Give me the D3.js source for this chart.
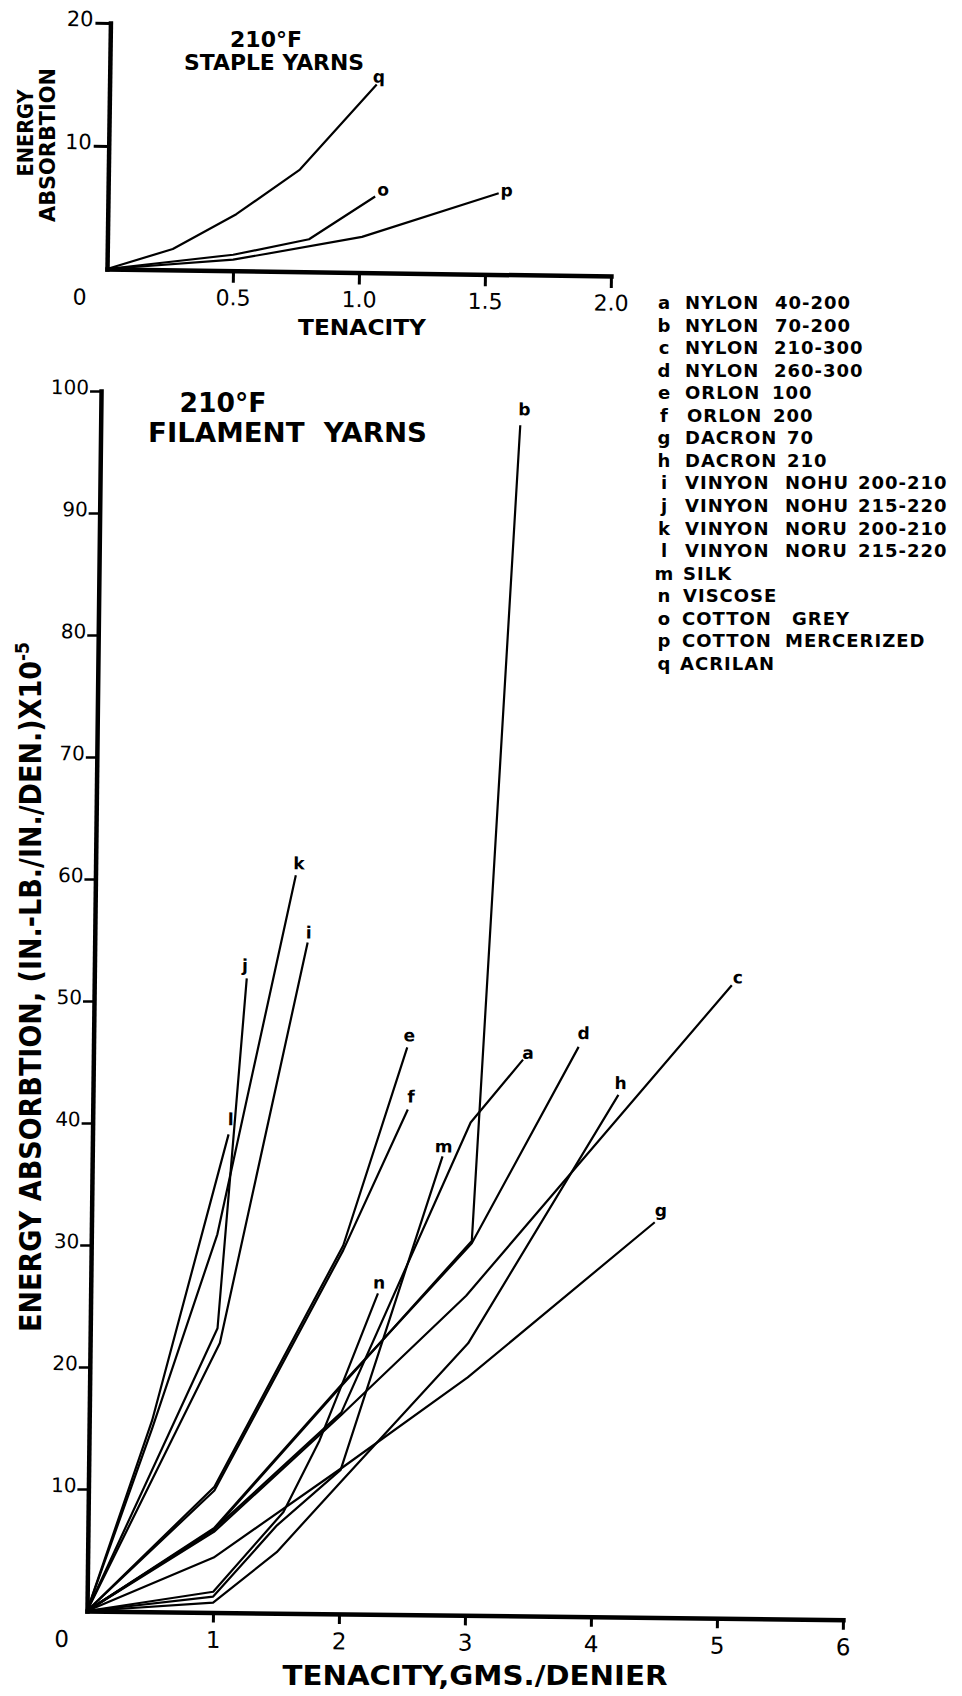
<!DOCTYPE html>
<html><head><meta charset="utf-8">
<script src="https://cdn.jsdelivr.net/npm/d3@7"></script>
<style>
html,body{margin:0;padding:0;background:#fff;}
svg{display:block;}
text{font-family:"DejaVu Sans",sans-serif;fill:#000;}
</style></head><body>
<svg id="chart" width="962" height="1696"></svg>
<script>
// ===== DATA =====
// Top panel: 210°F staple yarns  [tenacity, energy]
const stapleTicksX = [0.5, 1.0, 1.5, 2.0];
const stapleTickLabelsX = ["0.5", "1.0", "1.5", "2.0"];
const stapleTicksY = [10, 20];
const staple_o = [[0,0],[0.5,1.3],[0.8,2.65],[1.06,6.2]];
const staple_p = [[0,0],[0.5,0.9],[1.01,2.9],[1.55,6.6]];
const staple_q = [[0,0],[0.26,1.7],[0.51,4.6],[0.76,8.3],[1.06,15.3]];
const stapleKeys = ["o","p","q"];

// Main panel: 210°F filament yarns  [tenacity, energy x10^-5]
const filamentTicksX = [1, 2, 3, 4, 5, 6];
const filamentTicksY = [10, 20, 30, 40, 50, 60, 70, 80, 90, 100];
const fil_a = [[0,0],[1,6.8],[2,16.5],[3.0,40.4],[3.41,45.6]];
const fil_b = [[0,0],[1,6.8],[2,18.7],[3.02,30.7],[3.33,97.6]];
const fil_c = [[0,0],[1,6.6],[2,16.3],[2.98,26.2],[5.06,51.9]];
const fil_d = [[0,0],[1,6.9],[2,18.8],[3.02,30.5],[3.85,46.7]];
const fil_e = [[0,0],[1,10.3],[2,30.2],[2.49,46.5]];
const fil_f = [[0,0],[1,10.0],[2,29.8],[2.5,41.4]];
const fil_g = [[0,0],[1,4.5],[2,11.9],[3,19.5],[4.47,32.4]];
const fil_h = [[0,0],[1,0.8],[1.5,5.0],[2,10.8],[3,22.3],[4.17,42.8]];
const fil_i = [[0,0],[1.03,22.1],[1.69,55.0]];
const fil_j = [[0,0],[1.01,23.3],[1.21,52.0]];
const fil_k = [[0,0],[0.5,15.0],[1,31],[1.59,60.5]];
const fil_l = [[0,0],[0.5,15.7],[1.08,39.2]];
const fil_m = [[0,0],[1,1.3],[1.5,7.2],[2,11.8],[2.78,37.6]];
const fil_n = [[0,0],[1,1.7],[1.55,8.3],[1.83,14.2],[2.04,19.8],[2.28,26.3]];
const filamentKeys = ["a","b","c","d","e","f","g","h","i","j","k","l","m","n"];

// Legend
const legendKeys = ["a","b","c","d","e","f","g","h","i","j","k","l","m","n","o","p","q"];
const legendWords = [
  ["NYLON","40-200"],["NYLON","70-200"],["NYLON","210-300"],["NYLON","260-300"],
  ["ORLON","100"],["ORLON","200"],["DACRON","70"],["DACRON","210"],
  ["VINYON","NOHU","200-210"],["VINYON","NOHU","215-220"],
  ["VINYON","NORU","200-210"],["VINYON","NORU","215-220"],
  ["SILK"],["VISCOSE"],["COTTON","GREY"],["COTTON","MERCERIZED"],["ACRILAN"]
];

// ===== STYLE / LAYOUT =====
const stapleSeries = {o: staple_o, p: staple_p, q: staple_q};
const filSeries = {a:fil_a,b:fil_b,c:fil_c,d:fil_d,e:fil_e,f:fil_f,g:fil_g,h:fil_h,
                   i:fil_i,j:fil_j,k:fil_k,l:fil_l,m:fil_m,n:fil_n};
// label offsets (px) from line end to label centre
const filLabelOff = {a:[5,-7],b:[4,-16],c:[6,-8],d:[5,-14],e:[2,-12],f:[3,-13],g:[6,-12],
  h:[2,-12],i:[1,-10],j:[-2,-13],k:[3,-12],l:[2,-15],m:[1,-10],n:[1,-11]};
const stapleLabelOff = {o:[8,-7],p:[8,-3],q:[2,-8]};
const legendColX = [[685,775],[685,775],[685,774],[685,774],[685,772],[687,773],[685,787],[685,787],
  [685,785,858],[685,785,858],[685,785,858],[685,785,858],[683],[683],[682,792],[682,785],[680]];

const svg = d3.select("#chart");
const lineW = 2.2;

function styleAxis(g, fs, tickW, domW){
  g.attr("font-family", null).attr("font-size", null);
  g.select(".domain").attr("stroke","#000").attr("stroke-width",domW).attr("stroke-linecap","square");
  g.selectAll(".tick line").attr("stroke","#000").attr("stroke-width",tickW);
  g.selectAll(".tick text").attr("fill","#000").attr("font-size",fs);
}

// ===== TOP PANEL =====
const T = {ox:107, oy:269, rot:0.8, w:504, h:246};
const gt = svg.append("g").attr("transform",`translate(${T.ox},${T.oy}) rotate(${T.rot})`);
const xs = d3.scaleLinear().domain([0,2]).range([0,T.w]);
const ys = d3.scaleLinear().domain([0,20]).range([0,-T.h]);

gt.append("g").call(d3.axisBottom(xs).tickValues(stapleTicksX).tickSize(12).tickSizeOuter(0)
    .tickPadding(7).tickFormat((d,i)=>stapleTickLabelsX[i]))
  .call(g=>styleAxis(g,22,3,4.5));
gt.append("g").call(d3.axisLeft(ys).tickValues(stapleTicksY).tickSize(15).tickSizeOuter(0)
    .tickPadding(2).tickFormat(d3.format("d")))
  .call(g=>{styleAxis(g,21,3,4.5); g.selectAll(".tick text").attr("dy",3);});
gt.append("text").attr("x",-27).attr("y",36).attr("text-anchor","middle").attr("font-size",22).text("0");

const lineS = d3.line().x(d=>xs(d[0])).y(d=>ys(d[1]));
stapleKeys.forEach(k=>{
  const s = stapleSeries[k];
  gt.append("path").attr("d",lineS(s)).attr("fill","none").attr("stroke","#000")
    .attr("stroke-width",lineW).attr("stroke-linejoin","round");
  const e = s[s.length-1], o = stapleLabelOff[k];
  gt.append("text").attr("x",xs(e[0])+o[0]).attr("y",ys(e[1])+o[1]+6)
    .attr("text-anchor","middle").attr("font-size",17).attr("font-weight","bold").text(k);
});

// top titles
svg.append("text").attr("x",266).attr("y",47).attr("text-anchor","middle").attr("font-size",21)
  .attr("font-weight","bold").attr("textLength",72).attr("lengthAdjust","spacingAndGlyphs").text("210°F");
svg.append("text").attr("x",274).attr("y",70).attr("text-anchor","middle").attr("font-size",22)
  .attr("font-weight","bold").attr("textLength",180).attr("lengthAdjust","spacingAndGlyphs").text("STAPLE YARNS");
svg.append("text").attr("x",362).attr("y",335).attr("text-anchor","middle").attr("font-size",22)
  .attr("font-weight","bold").attr("textLength",128).attr("lengthAdjust","spacingAndGlyphs").text("TENACITY");
svg.append("text").attr("transform","translate(33,133) rotate(-90)").attr("text-anchor","middle")
  .attr("font-size",22).attr("font-weight","bold").attr("textLength",87).attr("lengthAdjust","spacingAndGlyphs").text("ENERGY");
svg.append("text").attr("transform","translate(55,145) rotate(-90)").attr("text-anchor","middle")
  .attr("font-size",22).attr("font-weight","bold").attr("textLength",154).attr("lengthAdjust","spacingAndGlyphs").text("ABSORBTION");

// ===== MAIN PANEL =====
const M = {ox:87, oy:1611, rot:0.66, w:756, h:1220};
const gm = svg.append("g").attr("transform",`translate(${M.ox},${M.oy}) rotate(${M.rot})`);
const xm = d3.scaleLinear().domain([0,6]).range([0,M.w]);
const ym = d3.scaleLinear().domain([0,100]).range([0,-M.h]);

gm.append("g").call(d3.axisBottom(xm).tickValues(filamentTicksX).tickSize(10).tickSizeOuter(0)
    .tickPadding(9).tickFormat(d3.format("d")))
  .call(g=>styleAxis(g,23,3,4.5));
gm.append("g").call(d3.axisLeft(ym).tickValues(filamentTicksY).tickSize(11).tickSizeOuter(0)
    .tickPadding(1).tickFormat(d3.format("d")))
  .call(g=>{styleAxis(g,20,2.5,4.5); g.selectAll(".tick text").attr("dy",3);});
gm.append("text").attr("x",-25).attr("y",36).attr("text-anchor","middle").attr("font-size",23).text("0");

const lineM = d3.line().x(d=>xm(d[0])).y(d=>ym(d[1]));
filamentKeys.forEach(k=>{
  const s = filSeries[k];
  gm.append("path").attr("d",lineM(s)).attr("fill","none").attr("stroke","#000")
    .attr("stroke-width",lineW).attr("stroke-linejoin","round");
  const e = s[s.length-1], o = filLabelOff[k];
  gm.append("text").attr("x",xm(e[0])+o[0]).attr("y",ym(e[1])+o[1]+6)
    .attr("text-anchor","middle").attr("font-size",17).attr("font-weight","bold").text(k);
});

// main titles
svg.append("text").attr("x",223).attr("y",412).attr("text-anchor","middle").attr("font-size",26)
  .attr("font-weight","bold").attr("textLength",87).attr("lengthAdjust","spacingAndGlyphs").text("210°F");
svg.append("text").attr("x",148).attr("y",442).attr("font-size",26).attr("font-weight","bold")
  .attr("textLength",279).attr("lengthAdjust","spacingAndGlyphs").attr("xml:space","preserve").text("FILAMENT  YARNS");
svg.append("text").attr("x",475).attr("y",1685).attr("text-anchor","middle").attr("font-size",27)
  .attr("font-weight","bold").attr("textLength",385).attr("lengthAdjust","spacingAndGlyphs").text("TENACITY,GMS./DENIER");
const yt = svg.append("text").attr("transform","translate(41,987) rotate(-90)").attr("text-anchor","middle")
  .attr("font-size",30).attr("font-weight","bold").attr("textLength",690).attr("lengthAdjust","spacingAndGlyphs");
yt.append("tspan").text("ENERGY ABSORBTION, (IN.-LB./IN./DEN.)X10");
yt.append("tspan").attr("font-size",19).attr("dy",-12).text("-5");

// ===== LEGEND =====
const lg = svg.append("g");
legendKeys.forEach((k,i)=>{
  const yb = 309 + i*22.56;
  lg.append("text").attr("x",664).attr("y",yb).attr("text-anchor","middle").attr("font-size",18)
    .attr("font-weight","bold").text(k);
  legendWords[i].forEach((w,j)=>{
    lg.append("text").attr("x",legendColX[i][j]).attr("y",yb).attr("font-size",18)
      .attr("font-weight","bold").attr("letter-spacing",1).text(w);
  });
});
</script>
</body></html>
